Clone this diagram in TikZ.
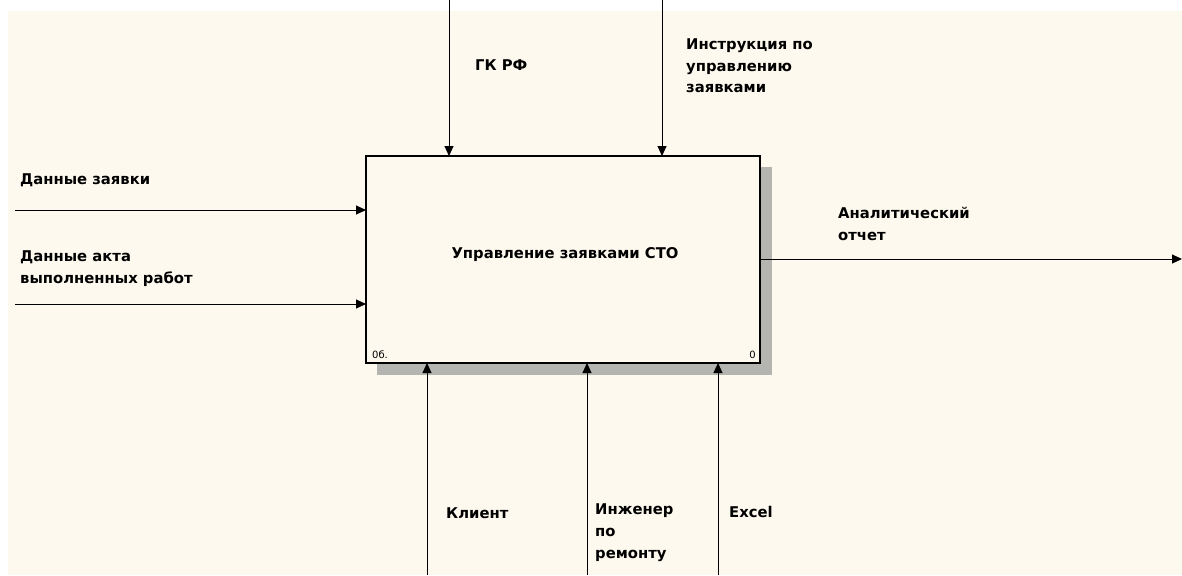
\documentclass[tikz,border=0pt]{standalone}
\usepackage{fontspec}
\setmainfont{DejaVu Sans}
\usetikzlibrary{arrows.meta}
\definecolor{cream}{RGB}{254,249,238}
\definecolor{shadowgray}{RGB}{180,180,176}
\begin{document}
\begin{tikzpicture}[x=1pt,y=-1pt,
  lbl/.style={anchor=base west,inner sep=0pt,font=\bfseries\fontsize{14.8}{21.7}\selectfont,align=left},
  arr/.style={line width=1pt,-{Triangle[width=9pt,length=10pt]}},
  small/.style={inner sep=0pt,font=\fontsize{10}{10}\selectfont}]
\useasboundingbox (0,0) rectangle (1182,575);
\fill[white] (0,0) rectangle (1182,575);
\fill[cream] (8,11) rectangle (1182,575);
% shadow
\fill[shadowgray] (377,167) rectangle (772,375);
% box
\node[draw,line width=2pt,fill=cream,minimum width=394pt,minimum height=207pt,inner sep=0pt] (box) at (563,259.5) {};
\node[lbl,anchor=base] (title) at (565,258) {Управление заявками СТО};
\node[small,anchor=base west] (num1) at (372,358) {0б.};
\node[small,anchor=base east] (num2) at (756,358) {0};
% coordinates
\coordinate (c1s) at (449,0);
\coordinate (c1e) at (449,156);
\coordinate (c2s) at (662,0);
\coordinate (c2e) at (662,156);
\coordinate (i1s) at (15,210);
\coordinate (i1e) at (366,210);
\coordinate (i2s) at (15,304);
\coordinate (i2e) at (366,304);
\coordinate (os) at (760,259);
\coordinate (oe) at (1182,259);
\coordinate (m1s) at (427,575);
\coordinate (m1e) at (427,363);
\coordinate (m2s) at (587,575);
\coordinate (m2e) at (587,363);
\coordinate (m3s) at (718,575);
\coordinate (m3e) at (718,363);
\draw[arr] (c1s) -- (c1e);
\draw[arr] (c2s) -- (c2e);
\draw[arr] (i1s) -- (i1e);
\draw[arr] (i2s) -- (i2e);
\draw[arr] (os) -- (oe);
\draw[arr] (m1s) -- (m1e);
\draw[arr] (m2s) -- (m2e);
\draw[arr] (m3s) -- (m3e);
% labels (base = baseline of last line)
\node[lbl] (l1) at (475,71) {ГК РФ};
\node[lbl] (l2) at (686,93) {Инструкция по\\управлению\\заявками};
\node[lbl] (l3) at (20,184) {Данные заявки};
\node[lbl] (l4) at (20,283) {Данные акта\\выполненных работ};
\node[lbl] (l5) at (838,240) {Аналитический\\отчет};
\node[lbl] (l6) at (446,518) {Клиент};
\node[lbl] (l7) at (595,558) {Инженер\\по\\ремонту};
\node[lbl] (l8) at (729,517) {Excel};
\end{tikzpicture}
\end{document}
